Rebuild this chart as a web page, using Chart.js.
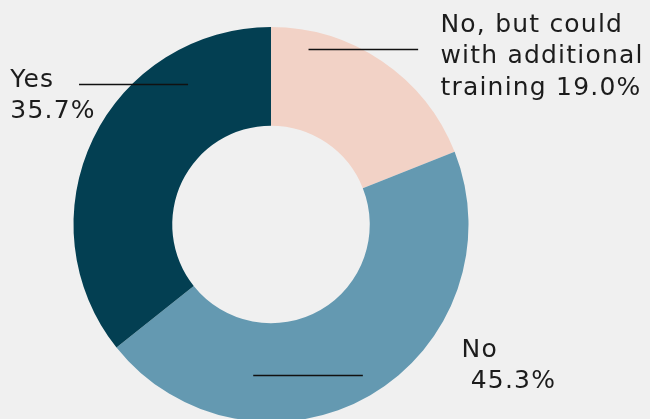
<!DOCTYPE html>
<html>
<head>
<meta charset="utf-8">
<script src="https://cdn.jsdelivr.net/npm/chart.js@4.4.1/dist/chart.umd.min.js"></script>
<style>
  html, body { margin: 0; padding: 0; background: #f0f0f0; overflow: hidden; }
  #wrap { width: 650px; height: 419px; overflow: hidden; }
  canvas { display: block; }
</style>
</head>
<body>
<div id="wrap"><canvas id="chart" width="650" height="440"></canvas></div>
<script>
// данные
const categories = ["No, but could with additional training", "No", "Yes"]
const shares = [19.0, 45.3, 35.7]
const colors = ["#f2d2c6", "#6499b1", "#033f52"]

// подписи: строки текста для каждого сектора
const labelLines = [
  ["No, but could", "with additional", "training 19.0%"],
  ["No", " 45.3%"],
  ["Yes", "35.7%"],
]

// раскладка подписей относительно центра и радиуса бублика (доли радиуса)
const labelLayout = [
  { lineY: -0.889, x1: 0.19, x2: 0.745, textX: 0.858, firstBase: -0.976 },
  { lineY: 0.76, x1: -0.09, x2: 0.465, textX: 0.965, firstBase: 0.669 },
  { lineY: -0.712, x1: -0.972, x2: -0.42, textX: -1.32, firstBase: -0.698 },
]

const FONT = "25px 'DejaVu Sans', sans-serif"
const LINE_H = 31.5

const leaderLabels = {
  id: "leaderLabels",
  afterDatasetsDraw(chart) {
    const { ctx } = chart
    const arc = chart.getDatasetMeta(0).data[0]
    if (!arc) return
    const cx = arc.x, cy = arc.y, r = arc.outerRadius
    ctx.save()
    ctx.strokeStyle = "#111"
    ctx.lineWidth = 1.3
    ctx.fillStyle = "#1c1c1c"
    ctx.font = FONT
    ctx.letterSpacing = "1.2px"
    ctx.textAlign = "left"
    ctx.textBaseline = "alphabetic"
    labelLayout.forEach((l, i) => {
      const y = Math.round(cy + l.lineY * r) + 0.5
      ctx.beginPath()
      ctx.moveTo(cx + l.x1 * r, y)
      ctx.lineTo(cx + l.x2 * r, y)
      ctx.stroke()
      labelLines[i].forEach((t, k) => {
        ctx.fillText(t, cx + l.textX * r, cy + l.firstBase * r + k * LINE_H)
      })
    })
    ctx.restore()
  }
}

new Chart(document.getElementById("chart").getContext("2d"), {
  type: "doughnut",
  data: {
    labels: categories,
    datasets: [{
      data: shares,
      backgroundColor: colors,
      borderWidth: 0,
      hoverOffset: 0,
    }]
  },
  options: {
    responsive: false,
    animation: false,
    cutout: "50%",
    events: [],
    layout: { padding: { top: 27, bottom: 18, left: 73, right: 181 } },
    plugins: {
      legend: { display: false },
      tooltip: { enabled: false },
    }
  },
  plugins: [leaderLabels]
})
</script>
</body>
</html>
